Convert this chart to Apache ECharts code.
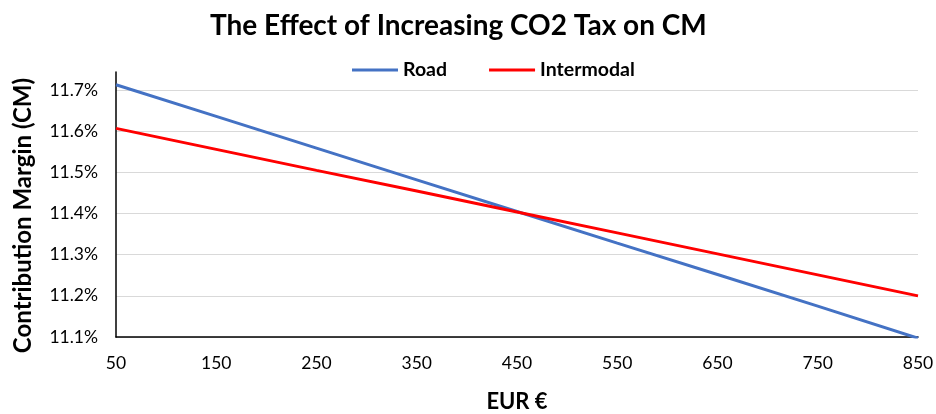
<!DOCTYPE html>
<html><head><meta charset="utf-8">
<script src="https://cdn.jsdelivr.net/npm/echarts@6/dist/echarts.min.js"></script>
<style>html,body{margin:0;padding:0;background:#fff}#c{width:936px;height:414px}</style>
</head><body><div id="c"></div>
<script>
const xValues = [50, 150, 250, 350, 450, 550, 650, 750, 850];
const roadCM = [11.713, 11.636, 11.559, 11.482, 11.405, 11.328, 11.252, 11.175, 11.097];
const intermodalCM = [11.607, 11.556, 11.505, 11.455, 11.404, 11.353, 11.302, 11.251, 11.200];
const seriesNames = ['Road', 'Intermodal'];
const FONT = 'Lato, "Open Sans", sans-serif';
const chart = echarts.init(document.getElementById('c'), null, {renderer: 'canvas'});
chart.setOption({
  animation: false,
  title: {text: 'The Effect of Increasing CO2 Tax on CM', left: 205, top: 7,
    textStyle: {fontFamily: FONT, fontWeight: 'bold', fontSize: 28, color: '#000'}},
  legend: {top: 55, left: 347, itemWidth: 46, itemHeight: 3, itemGap: 42, icon: 'rect',
    textStyle: {fontFamily: FONT, fontWeight: 'bold', fontSize: 19.5, color: '#000'}},
  grid: {left: 116, right: 18, top: 72, bottom: 77, outerBoundsMode: 'none', containLabel: false},
  xAxis: {type: 'value', min: 50, max: 850, interval: 100, name: 'EUR €', nameLocation: 'middle', nameGap: 54,
    nameTextStyle: {fontFamily: FONT, fontWeight: 'bold', fontSize: 22, color: '#000'},
    axisLine: {show: true, lineStyle: {color: '#000', width: 1.5}}, axisTick: {show: false},
    splitLine: {show: false},
    axisLabel: {fontFamily: FONT, fontSize: 17.5, color: '#000', margin: 17}},
  yAxis: {type: 'value', min: 11.1, max: 11.744, interval: 0.1, name: 'Contribution Margin (CM)',
    nameLocation: 'middle', nameGap: 81, nameRotate: 90,
    nameTextStyle: {fontFamily: FONT, fontWeight: 'bold', fontSize: 24, color: '#000', padding: [0, 22, 0, 0]},
    axisLine: {show: true, lineStyle: {color: '#000', width: 1.5}}, axisTick: {show: false},
    splitLine: {show: true, lineStyle: {width: 1, color: ['#d9d9d9','#d9d9d9','#d9d9d9','#d9d9d9','#d9d9d9','#d9d9d9','#d9d9d9','rgba(0,0,0,0)']}},
    axisLabel: {showMaxLabel: false, fontFamily: FONT, fontSize: 17.5, color: '#000', margin: 18,
      formatter: v => v.toFixed(1) + '%'}},
  series: [
    {name: seriesNames[0], type: 'line', symbol: 'none', data: xValues.map((x, i) => [x, roadCM[i]]),
      lineStyle: {color: '#4472C4', width: 3}, itemStyle: {color: '#4472C4'}},
    {name: seriesNames[1], type: 'line', symbol: 'none', data: xValues.map((x, i) => [x, intermodalCM[i]]),
      lineStyle: {color: '#FF0000', width: 3}, itemStyle: {color: '#FF0000'}}
  ]
});
</script></body></html>
